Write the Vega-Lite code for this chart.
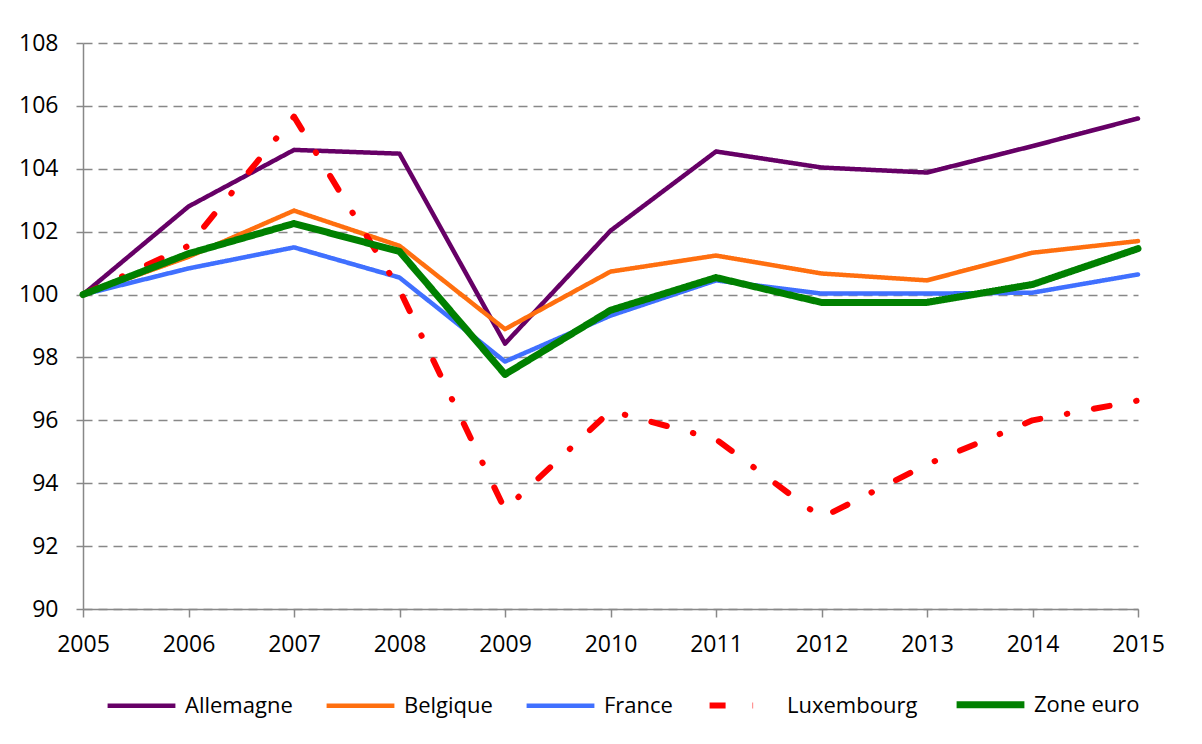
{
  "$schema": "https://vega.github.io/schema/vega-lite/v6.json",
  "width": 1055,
  "height": 566,
  "autosize": {"type": "none"},
  "padding": {"left": 83, "top": 43, "right": 64, "bottom": 135},
  "background": "white",
  "config": {
    "view": {"stroke": null},
    "font": "Open Sans"
  },
  "data": {
    "values": [
      {"annee": 2005, "pays": "Allemagne", "v": 100},
      {"annee": 2006, "pays": "Allemagne", "v": 102.8},
      {"annee": 2007, "pays": "Allemagne", "v": 104.6},
      {"annee": 2008, "pays": "Allemagne", "v": 104.48},
      {"annee": 2009, "pays": "Allemagne", "v": 98.44},
      {"annee": 2010, "pays": "Allemagne", "v": 102.03},
      {"annee": 2011, "pays": "Allemagne", "v": 104.55},
      {"annee": 2012, "pays": "Allemagne", "v": 104.04},
      {"annee": 2013, "pays": "Allemagne", "v": 103.88},
      {"annee": 2014, "pays": "Allemagne", "v": 104.72},
      {"annee": 2015, "pays": "Allemagne", "v": 105.6},
      {"annee": 2005, "pays": "Belgique", "v": 100},
      {"annee": 2006, "pays": "Belgique", "v": 101.2},
      {"annee": 2007, "pays": "Belgique", "v": 102.67},
      {"annee": 2008, "pays": "Belgique", "v": 101.55},
      {"annee": 2009, "pays": "Belgique", "v": 98.9},
      {"annee": 2010, "pays": "Belgique", "v": 100.73},
      {"annee": 2011, "pays": "Belgique", "v": 101.24},
      {"annee": 2012, "pays": "Belgique", "v": 100.67},
      {"annee": 2013, "pays": "Belgique", "v": 100.45},
      {"annee": 2014, "pays": "Belgique", "v": 101.33},
      {"annee": 2015, "pays": "Belgique", "v": 101.7},
      {"annee": 2005, "pays": "France", "v": 100},
      {"annee": 2006, "pays": "France", "v": 100.83},
      {"annee": 2007, "pays": "France", "v": 101.5},
      {"annee": 2008, "pays": "France", "v": 100.54},
      {"annee": 2009, "pays": "France", "v": 97.87},
      {"annee": 2010, "pays": "France", "v": 99.33},
      {"annee": 2011, "pays": "France", "v": 100.45},
      {"annee": 2012, "pays": "France", "v": 100.03},
      {"annee": 2013, "pays": "France", "v": 100.03},
      {"annee": 2014, "pays": "France", "v": 100.06},
      {"annee": 2015, "pays": "France", "v": 100.64},
      {"annee": 2005, "pays": "Luxembourg", "v": 100},
      {"annee": 2006, "pays": "Luxembourg", "v": 101.55},
      {"annee": 2007, "pays": "Luxembourg", "v": 105.66},
      {"annee": 2008, "pays": "Luxembourg", "v": 100.15},
      {"annee": 2009, "pays": "Luxembourg", "v": 93.16},
      {"annee": 2010, "pays": "Luxembourg", "v": 96.3},
      {"annee": 2011, "pays": "Luxembourg", "v": 95.4},
      {"annee": 2012, "pays": "Luxembourg", "v": 92.9},
      {"annee": 2013, "pays": "Luxembourg", "v": 94.6},
      {"annee": 2014, "pays": "Luxembourg", "v": 96.0},
      {"annee": 2015, "pays": "Luxembourg", "v": 96.63},
      {"annee": 2005, "pays": "Zone euro", "v": 100},
      {"annee": 2006, "pays": "Zone euro", "v": 101.3},
      {"annee": 2007, "pays": "Zone euro", "v": 102.26},
      {"annee": 2008, "pays": "Zone euro", "v": 101.37},
      {"annee": 2009, "pays": "Zone euro", "v": 97.46},
      {"annee": 2010, "pays": "Zone euro", "v": 99.5},
      {"annee": 2011, "pays": "Zone euro", "v": 100.54},
      {"annee": 2012, "pays": "Zone euro", "v": 99.75},
      {"annee": 2013, "pays": "Zone euro", "v": 99.75},
      {"annee": 2014, "pays": "Zone euro", "v": 100.32},
      {"annee": 2015, "pays": "Zone euro", "v": 101.46}
    ]
  },
  "mark": {"type": "line", "strokeCap": "round", "strokeJoin": "round"},
  "encoding": {
    "x": {
      "field": "annee",
      "type": "quantitative",
      "scale": {"domain": [2005, 2015], "nice": false, "zero": false},
      "axis": {
        "title": null,
        "values": [2005, 2006, 2007, 2008, 2009, 2010, 2011, 2012, 2013, 2014, 2015],
        "format": "d",
        "grid": false,
        "domainColor": "#888888",
        "domainWidth": 1.5,
        "tickColor": "#888888",
        "tickWidth": 1.5,
        "tickSize": 8,
        "labelFont": "Open Sans",
        "labelFontSize": 23,
        "labelColor": "#000000",
        "labelPadding": 16,
        "labelFlush": false
      }
    },
    "y": {
      "field": "v",
      "type": "quantitative",
      "scale": {"domain": [90, 108], "nice": false, "zero": false},
      "axis": {
        "title": null,
        "values": [90, 92, 94, 96, 98, 100, 102, 104, 106, 108],
        "grid": true,
        "gridDash": [9, 6],
        "gridColor": "#888888",
        "gridWidth": 1.5,
        "domainColor": "#888888",
        "domainWidth": 1.5,
        "tickColor": "#888888",
        "tickWidth": 1.5,
        "tickSize": 7,
        "labelFont": "Open Sans",
        "labelFontSize": 23,
        "labelColor": "#000000",
        "labelPadding": 18
      }
    },
    "color": {
      "field": "pays",
      "type": "nominal",
      "sort": ["Allemagne", "Belgique", "France", "Luxembourg", "Zone euro"],
      "scale": {
        "domain": ["Allemagne", "Belgique", "France", "Luxembourg", "Zone euro"],
        "range": ["#660066", "#FF6F0F", "#4070FF", "#FF0000", "#008000"]
      },
      "legend": {
        "title": null,
        "orient": "none",
        "legendX": 21,
        "legendY": 624,
        "direction": "horizontal",
        "columns": 5,
        "columnPadding": 24,
        "symbolType": "stroke",
        "symbolSize": 4600,
        "labelFont": "Open Sans",
        "labelFontSize": 22,
        "labelColor": "#000000",
        "labelOffset": 6
      }
    },
    "strokeDash": {
      "field": "pays",
      "type": "nominal",
      "sort": ["Allemagne", "Belgique", "France", "Luxembourg", "Zone euro"],
      "scale": {
        "domain": ["Allemagne", "Belgique", "France", "Luxembourg", "Zone euro"],
        "range": [[1, 0], [1, 0], [1, 0], [16, 27, 0.5, 27], [1, 0]]
      }
    },
    "strokeWidth": {
      "field": "pays",
      "type": "nominal",
      "sort": ["Allemagne", "Belgique", "France", "Luxembourg", "Zone euro"],
      "scale": {
        "type": "ordinal",
        "domain": ["Allemagne", "Belgique", "France", "Luxembourg", "Zone euro"],
        "range": [4.5, 4.5, 4.5, 6, 7]
      }
    }
  }
}
